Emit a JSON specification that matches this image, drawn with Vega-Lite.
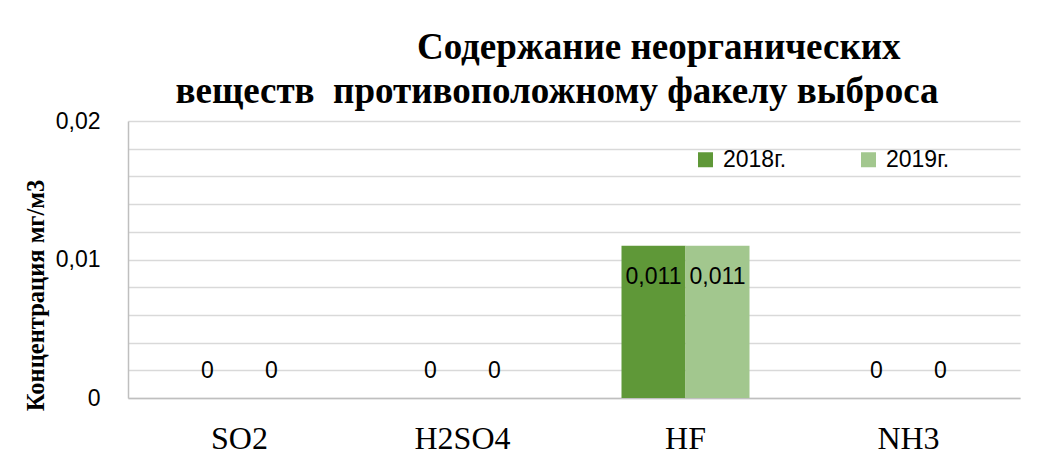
{
  "$schema": "https://vega.github.io/schema/vega-lite/v6.json",
  "width": 892,
  "height": 277,
  "autosize": {"type": "none"},
  "padding": {"left": 128, "top": 121, "right": 37, "bottom": 63},
  "background": "white",
  "config": {
    "locale": {"number": {"decimal": ",", "thousands": " ", "grouping": [3], "currency": ["", " ₽"]}},
    "view": {"stroke": null}
  },
  "title": {
    "text": ["\u200b\u00a0\u00a0\u00a0\u00a0\u00a0\u00a0\u00a0\u00a0\u00a0\u00a0\u00a0\u00a0\u00a0\u00a0\u00a0\u00a0\u00a0\u00a0\u00a0\u00a0\u00a0\u00a0Содержание неорганических", "веществ\u00a0 противоположному факелу выброса"],
    "font": "Liberation Serif",
    "fontSize": 37,
    "fontWeight": "bold",
    "color": "black",
    "anchor": "middle",
    "frame": "group",
    "baseline": "bottom",
    "offset": -38,
    "lineHeight": 44,
    "dx": -17
  },
  "data": {
    "values": [
      {"substance": "SO2", "year": "2018г.", "value": 0},
      {"substance": "SO2", "year": "2019г.", "value": 0},
      {"substance": "H2SO4", "year": "2018г.", "value": 0},
      {"substance": "H2SO4", "year": "2019г.", "value": 0},
      {"substance": "HF", "year": "2018г.", "value": 0.011},
      {"substance": "HF", "year": "2019г.", "value": 0.011},
      {"substance": "NH3", "year": "2018г.", "value": 0},
      {"substance": "NH3", "year": "2019г.", "value": 0}
    ]
  },
  "encoding": {
    "x": {
      "field": "substance",
      "type": "nominal",
      "sort": ["SO2", "H2SO4", "HF", "NH3"],
      "scale": {"paddingInner": 0.426, "paddingOuter": 0.213},
      "axis": {
        "title": null,
        "labelFont": "Liberation Serif",
        "labelFontSize": 32,
        "labelColor": "black",
        "labelPadding": 25,
        "labelAngle": 0,
        "ticks": false,
        "grid": false,
        "domainColor": "#bfbfbf",
        "domainWidth": 1.5
      }
    },
    "xOffset": {
      "field": "year",
      "type": "nominal",
      "sort": ["2018г.", "2019г."],
      "scale": {"paddingInner": 0, "paddingOuter": 0}
    },
    "y": {
      "field": "value",
      "type": "quantitative",
      "scale": {"domain": [0, 0.02], "nice": false},
      "axis": {
        "values": [0, 0.002, 0.004, 0.006, 0.008, 0.01, 0.012, 0.014, 0.016, 0.018, 0.02],
        "grid": true,
        "gridColor": "#d9d9d9",
        "gridWidth": 1.5,
        "domainColor": "#bfbfbf",
        "domainWidth": 1.5,
        "ticks": false,
        "labelFont": "Liberation Sans",
        "labelFontSize": 23,
        "labelColor": "black",
        "labelPadding": 28,
        "labelFlush": false,
        "labelOverlap": false,
        "format": "~g",
        "labelExpr": "abs(datum.value*100 - round(datum.value*100)) < 0.000001 ? datum.label : ''",
        "title": "Концентрация мг/м3",
        "titleFont": "Liberation Serif",
        "titleFontSize": 24.5,
        "titleFontWeight": "bold",
        "titleColor": "black",
        "titleAngle": 270,
        "titleAlign": "center",
        "titleBaseline": "middle",
        "titleX": -92,
        "titleY": 174
      }
    }
  },
  "layer": [
    {
      "mark": {"type": "bar"},
      "encoding": {
        "color": {
          "field": "year",
          "type": "nominal",
          "scale": {"domain": ["2018г.", "2019г."], "range": ["#5f9838", "#a2c78e"]},
          "legend": {
            "title": null,
            "orient": "none",
            "legendX": 566,
            "legendY": 27,
            "direction": "horizontal",
            "symbolType": "square",
            "symbolSize": 225,
            "symbolStrokeWidth": 0,
            "labelFont": "Liberation Sans",
            "labelFontSize": 23,
            "labelColor": "black",
            "labelOffset": 6,
            "columnPadding": 70
          }
        }
      }
    },
    {
      "transform": [{"filter": "datum.value == 0"}],
      "mark": {"type": "text", "dy": -27, "font": "Liberation Sans", "fontSize": 23, "color": "black", "baseline": "middle"},
      "encoding": {"text": {"field": "value", "type": "quantitative", "format": "~g"}}
    },
    {
      "transform": [{"filter": "datum.value > 0"}],
      "mark": {"type": "text", "dy": 31, "font": "Liberation Sans", "fontSize": 23, "color": "black", "baseline": "middle"},
      "encoding": {"text": {"field": "value", "type": "quantitative", "format": "~g"}}
    }
  ]
}
